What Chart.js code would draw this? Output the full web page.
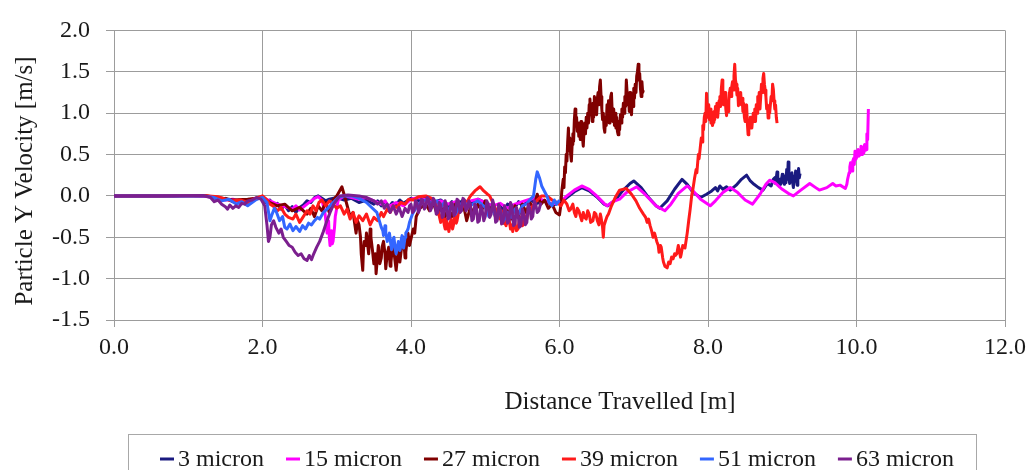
<!DOCTYPE html>
<html>
<head>
<meta charset="utf-8">
<script src="https://cdn.jsdelivr.net/npm/chart.js@4.4.1/dist/chart.umd.min.js"></script>
<style>
  html, body { margin: 0; padding: 0; background: #ffffff; }
  #wrap { width: 1032px; height: 470px; }
</style>
</head>
<body>
<div id="wrap"><canvas id="c" width="1032" height="470"></canvas></div>
<script>
// Particle Y velocity versus distance travelled, one trace per particle size.
// Each trace is a list of [distance (m), velocity (m/s)] samples.

const seriesNames = ['3 micron', '15 micron', '27 micron', '39 micron', '51 micron', '63 micron'];
const seriesColors = ['#1a1a80', '#ff00ff', '#800000', '#ff1a1a', '#3366ff', '#7b1f8e'];

const xTicks = [0, 2, 4, 6, 8, 10, 12];
const yTicks = [-1.5, -1.0, -0.5, 0.0, 0.5, 1.0, 1.5, 2.0];

const micron3 = [
  [0,0],[0.4,0.005],[0.8,0],[1.2,0.005],[1.3,-0.01],[1.4,-0.04],[1.5,-0.03],[1.6,-0.07],[1.7,-0.05],[1.8,-0.08],[1.9,-0.04],
  [2.0,-0.02],[2.05,-0.08],[2.1,-0.05],[2.15,-0.12],[2.2,-0.09],[2.25,-0.16],[2.3,-0.11],[2.35,-0.18],[2.4,-0.13],[2.45,-0.2],
  [2.5,-0.14],[2.55,-0.11],[2.6,-0.06],[2.65,-0.08],[2.7,-0.02],[2.75,0.0],[2.8,-0.03],[2.85,-0.06],[2.9,-0.04],[3.0,-0.02],
  [3.1,-0.05],[3.2,-0.03],[3.3,-0.08],[3.4,-0.05],[3.5,-0.1],[3.55,-0.06],[3.6,-0.12],[3.65,-0.07],[3.7,-0.14],[3.75,-0.08],
  [3.8,-0.11],[3.85,-0.05],[3.9,-0.09],[4.0,-0.03],[4.1,-0.06],[4.2,-0.02],[4.3,-0.08],[4.4,-0.05],[4.5,-0.12],[4.55,-0.07],
  [4.6,-0.15],[4.65,-0.09],[4.7,-0.05],[4.8,-0.1],[4.9,-0.04],[5.0,-0.08],[5.05,-0.15],[5.1,-0.09],[5.15,-0.2],[5.2,-0.12],
  [5.25,-0.18],[5.3,-0.1],[5.4,-0.14],[5.45,-0.07],[5.5,-0.12],[5.6,-0.05],[5.7,-0.09],[5.8,-0.06],[5.9,-0.11],[6.0,-0.09],
  [6.1,-0.02],[6.2,0.05],[6.3,0.1],[6.4,0.06],[6.5,-0.01],[6.6,-0.1],[6.65,-0.12],[6.75,-0.05],[6.85,0.06],[6.95,0.15],
  [7.0,0.18],[7.1,0.1],[7.2,-0.02],[7.3,-0.12],[7.35,-0.15],[7.45,-0.06],[7.55,0.08],[7.65,0.2],[7.72,0.14],[7.8,0.04],
  [7.9,-0.02],[7.98,0.02],[8.05,0.06],[8.1,0.1],[8.13,0.06],[8.16,0.12],[8.2,0.08],[8.25,0.11],[8.3,0.07],[8.38,0.13],
  [8.45,0.2],[8.52,0.25],[8.57,0.18],[8.62,0.14],[8.68,0.1],[8.74,0.07],[8.8,0.15],[8.85,0.12],[8.88,0.2],[8.9,0.22],
  [8.91,0.15],[8.93,0.29],[8.94,0.18],[8.96,0.12],[8.97,0.2],[8.98,0.14],[9.0,0.26],[9.01,0.18],[9.03,0.14],[9.04,0.24],
  [9.05,0.16],[9.06,0.32],[9.07,0.2],[9.08,0.41],[9.09,0.22],[9.1,0.15],[9.11,0.25],[9.12,0.18],[9.13,0.28],[9.14,0.16],
  [9.15,0.1],[9.16,0.24],[9.17,0.18],[9.18,0.3],[9.19,0.2],[9.2,0.13],[9.21,0.25],[9.22,0.33],[9.23,0.22],[9.24,0.27]
];

const micron15 = [
  [0,0],[0.5,0],[1.0,0.005],[1.3,-0.01],[1.4,-0.03],[1.5,-0.05],[1.6,-0.04],[1.7,-0.07],[1.8,-0.05],[1.9,-0.03],[2.0,-0.02],
  [2.1,-0.06],[2.2,-0.1],[2.3,-0.13],[2.4,-0.16],[2.45,-0.12],[2.5,-0.17],[2.6,-0.1],[2.7,-0.03],[2.75,-0.01],[2.8,-0.05],
  [2.84,-0.2],[2.86,-0.35],[2.87,-0.45],[2.89,-0.3],[2.9,-0.5],[2.91,-0.6],[2.93,-0.42],[2.94,-0.58],[2.95,-0.55],[2.97,-0.38],
  [2.98,-0.25],[3.02,-0.05],[3.1,0.0],[3.2,-0.02],
  [3.3,-0.04],[3.4,-0.02],[3.5,-0.06],[3.6,-0.1],[3.65,-0.06],[3.7,-0.13],[3.8,-0.08],[3.9,-0.12],[4.0,-0.04],[4.1,-0.02],
  [4.2,-0.05],[4.3,-0.08],[4.4,-0.06],[4.5,-0.1],[4.6,-0.07],[4.7,-0.12],[4.8,-0.06],[4.9,-0.04],[5.0,-0.08],[5.1,-0.12],
  [5.2,-0.09],[5.3,-0.15],[5.4,-0.1],[5.5,-0.07],[5.6,-0.04],[5.7,-0.02],[5.8,-0.06],[5.9,-0.1],[6.0,-0.08],[6.1,0.0],
  [6.2,0.07],[6.3,0.12],[6.4,0.08],[6.5,0.0],[6.6,-0.09],[6.64,-0.12],[6.72,-0.07],[6.81,-0.04],[6.9,0.04],[7.04,0.11],
  [7.15,0.02],[7.3,-0.12],[7.42,-0.18],[7.5,-0.1],[7.6,0.03],[7.72,0.12],[7.8,0.06],[7.9,-0.04],[8.03,-0.12],[8.1,-0.06],
  [8.2,0.04],[8.3,0.1],[8.4,0.04],[8.5,-0.05],[8.6,-0.1],[8.7,0.02],[8.78,0.14],[8.83,0.19],[8.9,0.16],[9.0,0.08],
  [9.1,0.02],[9.15,0.0],[9.25,0.07],[9.37,0.15],[9.45,0.1],[9.5,0.07],[9.6,0.1],[9.68,0.15],[9.72,0.12],[9.78,0.13],
  [9.85,0.09],[9.87,0.14],[9.88,0.2],[9.9,0.28],[9.91,0.35],[9.92,0.4],[9.94,0.3],[9.95,0.42],[9.96,0.45],[9.97,0.38],
  [9.98,0.54],[9.99,0.44],[10.0,0.46],[10.01,0.52],[10.02,0.56],[10.03,0.48],[10.05,0.5],[10.06,0.6],[10.07,0.58],
  [10.08,0.5],[10.09,0.52],[10.1,0.6],[10.11,0.62],[10.12,0.55],[10.13,0.56],[10.14,0.75],[10.15,0.68],[10.16,1.05]
];

const micron27 = [
  [0,0],[0.6,0],[1.2,0.005],[1.4,-0.02],[1.6,-0.05],[1.8,-0.04],[2.0,-0.02],[2.1,-0.08],[2.2,-0.12],[2.3,-0.1],[2.4,-0.18],
  [2.5,-0.14],[2.6,-0.22],[2.65,-0.15],[2.7,-0.25],[2.75,-0.12],[2.8,-0.18],[2.85,-0.08],[2.9,-0.2],[2.95,-0.05],[3.0,0.0],
  [3.07,0.11],[3.12,-0.05],[3.18,-0.25],[3.22,-0.2],[3.26,-0.45],[3.28,-0.3],[3.3,-0.35],[3.32,-0.5],[3.33,-0.7],[3.35,-0.9],
  [3.36,-0.65],[3.37,-0.55],[3.39,-0.6],[3.4,-0.45],[3.42,-0.62],[3.43,-0.7],[3.45,-0.4],[3.46,-0.5],[3.48,-0.65],[3.5,-0.82],
  [3.52,-0.7],[3.53,-0.94],[3.55,-0.72],[3.56,-0.6],[3.58,-0.82],[3.6,-0.75],[3.61,-0.62],[3.63,-0.55],[3.65,-0.7],[3.66,-0.88],
  [3.68,-0.7],[3.7,-0.62],[3.72,-0.85],[3.73,-0.8],[3.75,-0.62],[3.76,-0.55],[3.78,-0.75],[3.8,-0.9],[3.82,-0.72],[3.83,-0.6],
  [3.85,-0.8],[3.86,-0.72],[3.88,-0.58],[3.9,-0.5],[3.92,-0.75],[3.93,-0.68],[3.95,-0.52],[3.96,-0.45],[3.98,-0.6],[4.0,-0.52],
  [4.03,-0.4],[4.05,-0.45],[4.07,-0.25],[4.12,-0.15],[4.2,-0.1],[4.25,-0.18],[4.3,-0.08],[4.35,-0.22],[4.4,-0.12],[4.45,-0.28],
  [4.5,-0.15],[4.55,-0.25],[4.6,-0.1],[4.65,-0.2],[4.7,-0.08],[4.75,-0.3],[4.8,-0.14],[4.85,-0.22],[4.9,-0.1],[4.95,-0.18],
  [5.0,-0.06],[5.05,-0.2],[5.1,-0.12],[5.15,-0.3],[5.2,-0.16],[5.25,-0.33],[5.3,-0.18],[5.35,-0.28],[5.4,-0.12],[5.45,-0.24],
  [5.5,-0.1],[5.55,-0.2],[5.6,-0.08],[5.65,-0.15],[5.7,0.02],[5.75,-0.1],[5.8,-0.05],[5.85,-0.15],[5.9,-0.1],[5.95,-0.2],
  [6.0,-0.23],[6.02,-0.1],[6.03,0.05],[6.05,0.2],[6.06,0.1],[6.07,0.35],[6.08,0.28],[6.09,0.5],[6.1,0.42],[6.11,0.65],
  [6.12,0.82],[6.13,0.55],[6.14,0.7],[6.15,0.5],[6.16,0.42],[6.17,0.62],[6.18,0.75],[6.19,0.66],[6.2,0.92],[6.21,1.05],
  [6.22,0.85],[6.23,0.95],[6.24,0.78],[6.25,0.88],[6.26,0.72],[6.27,0.8],[6.28,0.68],[6.29,0.9],[6.3,0.82],[6.31,0.7],
  [6.32,0.6],[6.33,0.78],[6.34,0.88],[6.35,0.75],[6.36,0.95],[6.37,0.82],[6.38,1.0],[6.39,0.88],[6.4,1.1],[6.41,1.17],
  [6.42,0.98],[6.43,1.05],[6.44,0.9],[6.45,1.12],[6.46,0.95],[6.47,1.2],[6.48,1.05],[6.49,1.15],[6.5,0.98],[6.51,1.18],
  [6.52,1.25],[6.53,1.1],[6.54,1.32],[6.55,1.4],[6.56,1.2],[6.57,1.05],[6.58,0.92],[6.59,1.0],[6.6,0.82],[6.61,0.77],
  [6.62,0.95],[6.63,0.85],[6.64,1.1],[6.65,0.95],[6.66,1.15],[6.67,0.88],[6.68,1.05],[6.69,1.2],[6.7,1.24],[6.71,1.0],
  [6.72,0.9],[6.73,1.05],[6.74,0.85],[6.75,1.0],[6.76,0.82],[6.77,0.95],[6.78,0.78],[6.79,0.74],[6.8,0.9],[6.81,0.8],
  [6.82,0.98],[6.83,0.88],[6.84,1.05],[6.85,0.95],[6.86,1.12],[6.87,1.0],[6.88,1.2],[6.89,1.08],[6.9,1.4],[6.91,1.25],
  [6.92,1.1],[6.93,1.18],[6.94,1.02],[6.95,1.25],[6.96,1.1],[6.97,0.98],[6.98,1.2],[6.99,1.08],[7.0,1.3],[7.01,1.18],
  [7.02,1.35],[7.03,1.25],[7.04,1.45],[7.05,1.5],[7.06,1.59],[7.07,1.4],[7.08,1.48],[7.09,1.3],[7.1,1.2],[7.11,1.38],
  [7.12,1.25],[7.13,1.28]
];

const micron39 = [
  [0,0],[0.6,0],[1.2,0.005],[1.4,-0.01],[1.5,-0.04],[1.6,-0.06],[1.7,-0.05],[1.8,-0.08],[1.9,-0.03],[2.0,0.0],[2.05,-0.04],
  [2.1,-0.1],[2.14,-0.12],[2.2,-0.18],[2.25,-0.14],[2.3,-0.22],[2.35,-0.26],[2.41,-0.28],[2.45,-0.22],[2.5,-0.32],[2.55,-0.25],
  [2.6,-0.18],[2.64,-0.22],[2.68,-0.12],[2.72,-0.18],[2.76,-0.08],[2.8,-0.05],[2.85,-0.12],[2.9,-0.06],[2.95,-0.1],[3.0,-0.15],
  [3.05,-0.12],[3.1,-0.22],[3.14,-0.16],[3.18,-0.28],[3.22,-0.2],[3.26,-0.32],[3.3,-0.24],[3.35,-0.3],[3.4,-0.22],[3.45,-0.35],
  [3.5,-0.26],[3.55,-0.3],[3.6,-0.2],[3.63,-0.25],[3.68,-0.16],[3.72,-0.2],[3.76,-0.12],[3.81,-0.14],[3.86,-0.08],[3.92,-0.1],
  [3.97,-0.04],[4.03,-0.05],[4.1,-0.01],[4.2,0.0],[4.28,-0.03],[4.33,-0.08],[4.35,-0.15],[4.37,-0.2],[4.39,-0.28],[4.4,-0.32],
  [4.42,-0.22],[4.43,-0.25],[4.45,-0.36],[4.46,-0.4],[4.47,-0.28],[4.48,-0.3],[4.5,-0.38],[4.51,-0.43],[4.53,-0.32],[4.54,-0.28],
  [4.56,-0.4],[4.57,-0.36],[4.59,-0.24],[4.6,-0.22],[4.61,-0.33],[4.62,-0.3],[4.64,-0.2],[4.66,-0.18],[4.7,-0.12],[4.75,-0.08],
  [4.8,0.0],[4.86,0.06],[4.93,0.11],[4.98,0.06],[5.03,0.02],[5.06,0.0],[5.1,-0.08],[5.15,-0.18],[5.18,-0.22],[5.2,-0.28],
  [5.22,-0.18],[5.24,-0.2],[5.26,-0.32],[5.28,-0.36],[5.3,-0.25],[5.32,-0.28],[5.34,-0.4],[5.36,-0.35],[5.37,-0.43],[5.39,-0.3],
  [5.4,-0.33],[5.42,-0.42],[5.44,-0.4],[5.46,-0.28],[5.48,-0.26],[5.5,-0.36],[5.52,-0.34],[5.54,-0.24],[5.56,-0.28],[5.58,-0.18],
  [5.6,-0.2],[5.64,-0.12],[5.7,-0.05],[5.76,0.0],[5.83,0.0],[5.9,-0.05],[5.97,-0.08],[6.02,-0.12],[6.06,-0.05],[6.1,-0.1],
  [6.13,-0.18],[6.15,-0.16],[6.18,-0.1],[6.2,-0.2],[6.22,-0.25],[6.24,-0.15],[6.26,-0.18],[6.28,-0.24],[6.3,-0.3],[6.32,-0.2],
  [6.34,-0.26],[6.36,-0.28],[6.38,-0.18],[6.4,-0.22],[6.42,-0.32],[6.45,-0.3],[6.47,-0.2],[6.49,-0.22],[6.51,-0.3],[6.53,-0.35],
  [6.55,-0.22],[6.56,-0.26],[6.58,-0.38],[6.59,-0.5],[6.6,-0.36],[6.62,-0.3],[6.64,-0.25],[6.66,-0.22],[6.7,-0.12],[6.75,-0.02],
  [6.81,0.07],[6.9,0.09],[6.97,0.02],[7.03,-0.06],[7.08,-0.15],[7.13,-0.22],[7.16,-0.26],[7.18,-0.32],[7.2,-0.28],[7.22,-0.36],
  [7.24,-0.42],[7.26,-0.5],[7.28,-0.45],[7.31,-0.55],[7.33,-0.6],[7.34,-0.68],[7.36,-0.6],[7.37,-0.62],[7.39,-0.75],[7.4,-0.8],
  [7.42,-0.85],[7.45,-0.87],[7.47,-0.8],[7.49,-0.82],[7.51,-0.74],[7.53,-0.76],[7.55,-0.7],[7.56,-0.72],[7.58,-0.7],[7.6,-0.6],
  [7.61,-0.64],[7.63,-0.74],[7.64,-0.7],[7.66,-0.6],[7.67,-0.62],[7.69,-0.63],[7.72,-0.45],[7.74,-0.3],[7.76,-0.16],[7.78,0.0],
  [7.8,0.1],[7.82,0.22],[7.84,0.32],[7.85,0.28],[7.87,0.5],[7.88,0.45],[7.9,0.62],[7.91,0.7],[7.92,0.65],[7.93,0.85],
  [7.94,0.8],[7.95,0.95],[7.96,1.0],[7.97,0.9],[7.98,1.24],[7.99,1.05],[8.0,0.95],[8.01,1.1],[8.02,0.92],[8.03,1.05],
  [8.04,0.88],[8.05,0.98],[8.06,0.85],[8.07,0.89],[8.08,1.02],[8.09,0.92],[8.1,1.08],[8.11,0.98],[8.12,1.12],[8.13,0.95],
  [8.14,1.05],[8.15,1.15],[8.16,1.2],[8.17,1.08],[8.18,1.3],[8.19,1.4],[8.2,1.25],[8.21,1.1],[8.22,1.22],[8.23,1.25],
  [8.24,1.05],[8.25,0.97],[8.26,1.1],[8.27,1.02],[8.28,1.15],[8.29,1.25],[8.3,1.3],[8.31,1.2],[8.32,1.32],[8.33,1.38],
  [8.34,1.28],[8.35,1.45],[8.36,1.59],[8.37,1.4],[8.38,1.35],[8.39,1.22],[8.4,1.3],[8.41,1.09],[8.42,1.2],[8.43,1.12],
  [8.44,1.25],[8.45,1.1],[8.46,1.18],[8.47,1.02],[8.48,1.12],[8.49,0.95],[8.5,0.9],[8.51,1.05],[8.52,1.1],[8.53,0.88],
  [8.54,0.74],[8.55,0.9],[8.56,0.82],[8.57,0.95],[8.58,0.88],[8.59,0.82],[8.6,0.92],[8.61,1.0],[8.62,0.9],[8.63,1.05],
  [8.64,0.9],[8.65,1.1],[8.66,1.0],[8.67,1.2],[8.68,1.1],[8.69,1.25],[8.7,1.05],[8.71,1.2],[8.72,1.35],[8.73,1.25],
  [8.74,1.42],[8.75,1.48],[8.76,1.35],[8.77,1.28],[8.78,1.2],[8.79,1.05],[8.8,1.1],[8.81,0.94],[8.82,1.05],[8.83,1.0],
  [8.84,1.1],[8.85,1.2],[8.86,1.15],[8.87,1.35],[8.88,1.29],[8.89,1.15],[8.9,1.05],[8.91,1.1],[8.92,0.95],[8.93,0.88]
];

const micron51 = [
  [0,0],[0.6,0],[1.2,0],[1.35,-0.02],[1.45,-0.06],[1.55,-0.04],[1.65,-0.1],[1.72,-0.07],[1.8,-0.12],[1.86,-0.08],[1.92,-0.04],
  [2.0,-0.02],[2.06,-0.08],[2.1,-0.3],[2.13,-0.22],[2.16,-0.15],[2.19,-0.2],[2.23,-0.3],[2.27,-0.25],[2.3,-0.38],[2.33,-0.4],
  [2.37,-0.34],[2.41,-0.42],[2.45,-0.37],[2.5,-0.43],[2.54,-0.36],[2.58,-0.4],[2.62,-0.33],[2.66,-0.35],[2.7,-0.3],[2.74,-0.26],
  [2.77,-0.28],[2.82,-0.2],[2.87,-0.16],[2.95,-0.08],[3.02,-0.02],[3.1,0.0],[3.2,0.0],[3.3,-0.03],[3.4,-0.08],[3.47,-0.14],
  [3.54,-0.2],[3.58,-0.32],[3.6,-0.38],[3.62,-0.42],[3.63,-0.48],[3.65,-0.36],[3.66,-0.44],[3.68,-0.55],[3.7,-0.5],[3.71,-0.45],
  [3.73,-0.6],[3.74,-0.65],[3.76,-0.52],[3.77,-0.5],[3.79,-0.66],[3.8,-0.7],[3.82,-0.6],[3.83,-0.55],[3.85,-0.66],[3.86,-0.62],
  [3.87,-0.52],[3.88,-0.48],[3.9,-0.63],[3.92,-0.5],[3.93,-0.45],[3.95,-0.42],[3.96,-0.4],[3.98,-0.32],[4.02,-0.22],[4.08,-0.12],
  [4.15,-0.06],[4.2,-0.05],[4.3,-0.1],[4.35,-0.06],[4.4,-0.14],[4.45,-0.08],[4.5,-0.18],[4.55,-0.1],[4.6,-0.22],[4.65,-0.12],
  [4.7,-0.08],[4.8,-0.12],[4.9,-0.06],[5.0,-0.14],[5.05,-0.25],[5.1,-0.15],[5.15,-0.28],[5.2,-0.18],[5.25,-0.3],[5.3,-0.2],
  [5.35,-0.26],[5.4,-0.16],[5.45,-0.22],[5.5,-0.12],[5.55,-0.1],[5.6,-0.05],[5.65,0.0],[5.68,0.2],[5.7,0.29],[5.73,0.22],
  [5.76,0.12],[5.8,0.05],[5.83,0.0],[5.86,-0.08],[5.9,-0.12],[5.93,-0.05],[5.96,-0.1],[6.0,-0.05]
];

const micron63 = [
  [0,0],[0.6,0],[1.2,0.005],[1.3,-0.02],[1.35,-0.07],[1.4,-0.05],[1.45,-0.1],[1.5,-0.13],[1.53,-0.16],[1.56,-0.11],[1.6,-0.15],
  [1.64,-0.12],[1.68,-0.14],[1.72,-0.09],[1.76,-0.1],[1.8,-0.06],[1.86,-0.05],[1.92,-0.02],[1.98,-0.04],[2.03,-0.12],[2.06,-0.35],
  [2.08,-0.55],[2.1,-0.5],[2.12,-0.35],[2.15,-0.3],[2.18,-0.38],[2.22,-0.45],[2.25,-0.4],[2.28,-0.5],[2.32,-0.55],[2.36,-0.6],
  [2.4,-0.62],[2.44,-0.68],[2.48,-0.72],[2.52,-0.7],[2.56,-0.76],[2.6,-0.78],[2.63,-0.72],[2.66,-0.77],[2.69,-0.7],[2.73,-0.62],
  [2.77,-0.55],[2.82,-0.43],[2.86,-0.32],[2.91,-0.2],[2.96,-0.1],[3.04,0.0],[3.15,0.01],[3.3,0.0],[3.4,-0.02],[3.5,-0.06],
  [3.55,-0.1],[3.6,-0.06],[3.64,-0.15],[3.68,-0.1],[3.72,-0.2],[3.76,-0.12],[3.8,-0.22],[3.84,-0.14],[3.88,-0.25],[3.92,-0.15],
  [3.96,-0.2],[3.98,-0.12],[4.0,-0.1],[4.02,-0.2],[4.04,-0.18],[4.06,-0.06],[4.08,-0.08],[4.1,-0.2],[4.12,-0.15],[4.14,-0.04],
  [4.16,-0.05],[4.18,-0.16],[4.2,-0.12],[4.22,-0.02],[4.24,-0.04],[4.26,-0.18],[4.28,-0.14],[4.3,-0.03],[4.32,-0.06],[4.34,-0.22],
  [4.36,-0.2],[4.38,-0.08],[4.4,-0.1],[4.42,-0.26],[4.44,-0.24],[4.46,-0.06],[4.48,-0.12],[4.5,-0.28],[4.52,-0.26],[4.54,-0.08],
  [4.56,-0.1],[4.58,-0.24],[4.6,-0.2],[4.62,-0.04],[4.64,-0.06],[4.66,-0.2],[4.68,-0.18],[4.7,-0.03],[4.72,-0.05],[4.74,-0.18],
  [4.76,-0.15],[4.78,-0.06],[4.8,-0.1],[4.82,-0.3],[4.84,-0.28],[4.86,-0.1],[4.88,-0.14],[4.9,-0.32],[4.92,-0.3],[4.94,-0.12],
  [4.96,-0.18],[4.98,-0.3],[5.0,-0.25],[5.02,-0.06],[5.04,-0.1],[5.06,-0.26],[5.08,-0.22],[5.1,-0.05],[5.12,-0.12],[5.14,-0.32],
  [5.16,-0.3],[5.18,-0.1],[5.2,-0.15],[5.22,-0.34],[5.24,-0.32],[5.26,-0.12],[5.28,-0.18],[5.3,-0.33],[5.32,-0.3],[5.34,-0.08],
  [5.36,-0.12],[5.38,-0.36],[5.4,-0.34],[5.42,-0.14],[5.44,-0.2],[5.46,-0.38],[5.48,-0.36],[5.5,-0.16],[5.52,-0.22],[5.54,-0.35],
  [5.56,-0.32],[5.58,-0.1],[5.6,-0.15],[5.62,-0.28],[5.64,-0.25],[5.66,-0.06],[5.68,-0.1],[5.7,-0.2],[5.72,-0.18],[5.75,-0.08]
];

const seriesData = [micron3, micron15, micron27, micron39, micron51, micron63];

const SERIF = "'Liberation Serif', 'Times New Roman', serif";
const TEXT = '#1a1a1a';
const GRID = '#9c9c9c';

// Axis titles and the boxed legend strip below the plot.
const annotations = {
  id: 'annotations',
  afterDraw(chart) {
    const ctx = chart.ctx;
    ctx.save();
    ctx.fillStyle = TEXT;
    ctx.font = '25px ' + SERIF;
    ctx.textAlign = 'center';
    ctx.textBaseline = 'middle';
    ctx.fillText('Distance Travelled [m]', 620, 402);
    ctx.save();
    ctx.translate(25, 181);
    ctx.rotate(-Math.PI / 2);
    ctx.fillText('Particle Y Velocity [m/s]', 0, 0);
    ctx.restore();

    // legend frame
    ctx.strokeStyle = '#a8a8a8';
    ctx.lineWidth = 1;
    ctx.strokeRect(128.5, 434.5, 848, 60);

    ctx.font = '24px ' + SERIF;
    ctx.textAlign = 'left';
    ctx.textBaseline = 'alphabetic';
    const dashW = 14, dashGap = 4, itemGap = 22;
    let x = 160;
    const baseY = 466;
    seriesNames.forEach((name, i) => {
      ctx.strokeStyle = seriesColors[i];
      ctx.lineWidth = 3;
      ctx.beginPath();
      ctx.moveTo(x, baseY - 7);
      ctx.lineTo(x + dashW, baseY - 7);
      ctx.stroke();
      ctx.fillStyle = TEXT;
      ctx.fillText(name, x + dashW + dashGap, baseY);
      x += dashW + dashGap + ctx.measureText(name).width + itemGap;
    });
    ctx.restore();
  }
};

new Chart(document.getElementById('c'), {
  type: 'line',
  data: {
    datasets: seriesNames.map((name, i) => ({
      label: name,
      data: seriesData[i].map(p => ({ x: p[0], y: p[1] })),
      borderColor: seriesColors[i],
      backgroundColor: seriesColors[i],
      borderWidth: 3,
      borderJoinStyle: 'round',
      pointRadius: 0,
      tension: 0,
      fill: false,
      order: seriesNames.length - i
    }))
  },
  options: {
    responsive: false,
    animation: false,
    events: [],
    layout: { padding: { top: 22, right: 27, left: 0, bottom: 0 } },
    plugins: { legend: { display: false }, tooltip: { enabled: false } },
    scales: {
      x: {
        type: 'linear',
        min: xTicks[0],
        max: xTicks[xTicks.length - 1],
        afterBuildTicks: s => { s.ticks = xTicks.map(v => ({ value: v })); },
        afterFit: s => { s.height = 150; },
        ticks: {
          callback: v => Number(v).toFixed(1),
          font: { family: SERIF, size: 24 },
          color: TEXT,
          padding: 6,
          maxRotation: 0
        },
        grid: { color: GRID, lineWidth: 1, tickLength: 7 },
        border: { color: GRID, width: 1 }
      },
      y: {
        type: 'linear',
        min: yTicks[0],
        max: yTicks[yTicks.length - 1],
        afterBuildTicks: s => { s.ticks = yTicks.map(v => ({ value: v })); },
        afterFit: s => { s.width = 114; },
        ticks: {
          callback: v => Number(v).toFixed(1),
          font: { family: SERIF, size: 24 },
          color: TEXT,
          padding: 16
        },
        grid: { color: GRID, lineWidth: 1, tickLength: 8 },
        border: { color: GRID, width: 1 }
      }
    }
  },
  plugins: [annotations]
});
</script>
</body>
</html>
